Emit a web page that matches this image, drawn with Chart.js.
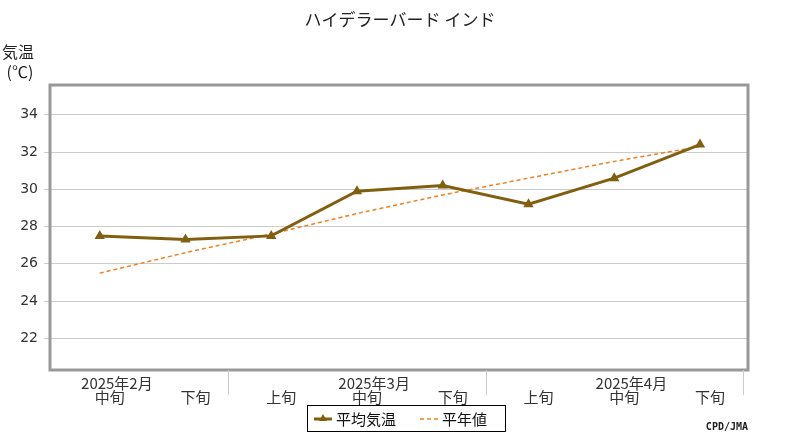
<!DOCTYPE html>
<html><head><meta charset="utf-8">
<script src="https://cdn.jsdelivr.net/npm/chart.js@4"></script>
<style>body{margin:0;background:#fff}#w{width:800px;height:440px}</style>
</head><body><div id="w"><canvas id="c" width="800" height="440"></canvas></div>
<script>
const decades = ["中旬","下旬","上旬","中旬","下旬","上旬","中旬","下旬"];
const months = ["2025年2月","2025年3月","2025年4月"];
const monthPos = [0.2,3.2,6.2];
const meanTemp = [27.5,27.3,27.5,29.9,30.2,29.2,30.6,32.4];
const normalTemp = [25.5,26.6,27.6,28.7,29.7,30.6,31.5,32.3];
const yTicks = [22,24,26,28,30,32,34];
const F = '"Noto Sans CJK JP", sans-serif';
const pts = a => a.map((v,i)=>({x:i,y:v}));
const deco = {
  id:'deco',
  afterDraw(ch){
    const c=ch.ctx, x=ch.scales.x, a=ch.chartArea;
    c.save();
    c.strokeStyle='#999'; c.lineWidth=3;
    c.strokeRect(a.left,a.top,a.right-a.left,a.bottom-a.top);
    c.lineWidth=1; c.strokeStyle='#ccc';
    [1.5,4.5,7.5].forEach(v=>{const p=Math.round(x.getPixelForValue(v))+0.5;c.beginPath();c.moveTo(p,a.bottom);c.lineTo(p,a.bottom+25);c.stroke();});
    c.fillStyle='#333'; c.font='15px '+F; c.textAlign='center'; c.textBaseline='middle';
    decades.forEach((d,i)=>c.fillText(d,x.getPixelForValue(i)+10,a.bottom+27));
    months.forEach((m,i)=>c.fillText(m,x.getPixelForValue(monthPos[i]),a.bottom+13));
    c.font='17px '+F; c.fillStyle='#222';
    c.fillText('ハイデラーバード インド',400,20);
    c.font='16px '+F; c.fillText('気温',18,52); c.fillText('(℃)',20,72);
    c.font='bold 10px monospace'; c.textAlign='right'; c.fillText('CPD/JMA',748,427);
    c.strokeStyle='#000'; c.lineWidth=1; c.strokeRect(307.5,405.5,198,26);
    c.strokeStyle='#806010'; c.lineWidth=3; c.beginPath(); c.moveTo(314,419); c.lineTo(332,419); c.stroke();
    c.fillStyle='#806010'; c.beginPath(); c.moveTo(323,414); c.lineTo(327,421); c.lineTo(319,421); c.fill();
    c.strokeStyle='#f08020'; c.lineWidth=1.5; c.setLineDash([4,3]); c.beginPath(); c.moveTo(420,419); c.lineTo(438,419); c.stroke(); c.setLineDash([]);
    c.fillStyle='#111'; c.font='15px '+F; c.textAlign='left';
    c.fillText('平均気温',336,419); c.fillText('平年値',442,419);
    c.restore();
  }
};
new Chart(document.getElementById('c'),{
  type:'scatter',
  data:{datasets:[
    {label:'平年値',data:pts(normalTemp),showLine:true,borderColor:'#f08020',borderWidth:1.5,borderDash:[4,3],pointRadius:0,order:2},
    {label:'平均気温',data:pts(meanTemp),showLine:true,borderColor:'#806010',backgroundColor:'#806010',borderWidth:3,pointStyle:'triangle',pointRadius:3,order:1}
  ]},
  options:{responsive:false,animation:false,
    layout:{padding:{left:0,right:52,top:85,bottom:62}},
    plugins:{legend:{display:false},tooltip:{enabled:false}},
    scales:{
      x:{type:'linear',min:-0.58,max:7.56,ticks:{display:false},grid:{display:false},border:{display:false}},
      y:{min:20.3,max:35.6,afterBuildTicks:s=>{s.ticks=yTicks.map(v=>({value:v}));},
        afterFit:s=>{s.width=50;},
        ticks:{color:'#333',font:{size:14,family:'DejaVu Sans'},padding:6},
        grid:{color:'#ccc',tickLength:6},border:{display:false}}
    }
  },
  plugins:[deco]
});
</script></body></html>
